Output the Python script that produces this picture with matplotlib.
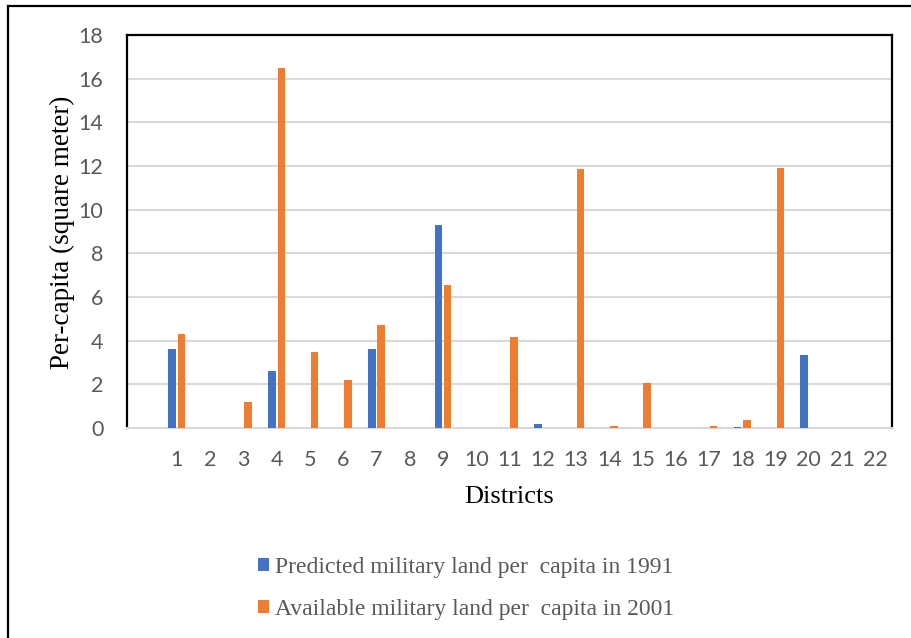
import matplotlib
matplotlib.use("Agg")
import matplotlib.pyplot as plt
from matplotlib.lines import Line2D
import numpy as np

districts = [str(i) for i in range(1, 23)]
predicted_1991 = [3.6, 0, 0, 2.6, 0, 0, 3.6, 0, 9.3, 0, 0, 0.18, 0, 0, 0, 0, 0, 0.05, 0, 3.35, 0, 0]
available_2001 = [4.3, 0, 1.18, 16.5, 3.5, 2.18, 4.7, 0.02, 6.55, 0, 4.17, 0, 11.85, 0.09, 2.08, 0, 0.07, 0.38, 11.9, 0, 0, 0]
y_ticks = [0, 2, 4, 6, 8, 10, 12, 14, 16, 18]

blue = "#4472C4"
orange = "#ED7D31"
grey_text = "#595959"

W, H = 911, 638
fig = plt.figure(figsize=(W / 100, H / 100), dpi=100)
ax = fig.add_axes([127 / W, 1 - 428 / H, (892 - 127) / W, (428 - 35) / H])

x = np.arange(1, len(districts) + 1)
bw = 0.225
ax.bar(x - 0.14, predicted_1991, width=bw, color=blue, edgecolor="none", zorder=3,
       label="Predicted military land per  capita in 1991")
ax.bar(x + 0.14, available_2001, width=bw, color=orange, edgecolor="none", zorder=3,
       label="Available military land per  capita in 2001")

ax.set_xlim(-0.5, len(districts) + 0.5)
ax.set_ylim(0, 18)
ax.set_yticks(y_ticks)
ax.set_xticks(x)
ax.set_xticklabels(districts)
ax.yaxis.grid(True, color="#D9D9D9", linewidth=1.5, zorder=0)
ax.set_axisbelow(True)

for side in ("left", "top", "right"):
    ax.spines[side].set_color("black")
    ax.spines[side].set_linewidth(1.6)
ax.spines["bottom"].set_color("#D9D9D9")
ax.spines["bottom"].set_linewidth(1.5)

ax.tick_params(axis="both", length=0, labelcolor=grey_text, labelsize=15.5)
ax.tick_params(axis="y", pad=17)
ax.tick_params(axis="x", pad=16)
for lbl in ax.get_xticklabels() + ax.get_yticklabels():
    lbl.set_family("Lato")

ax.set_ylabel("Per-capita (square meter)", family="Liberation Serif", fontsize=19.5,
              color="black")
ax.yaxis.set_label_coords(62 / W, 1 - 232 / H, transform=fig.transFigure)
ax.set_xlabel("Districts", family="Liberation Serif", fontsize=19, color="black")
ax.xaxis.set_label_coords(509 / W, 1 - 497 / H, transform=fig.transFigure)
ax.xaxis.label.set_va("center")
ax.yaxis.label.set_va("center")

leg = fig.legend(loc="upper left", bbox_to_anchor=(237 / W, 1 - 536 / H), ncol=1,
                 frameon=False, handlelength=0.47, handleheight=0.47, handletextpad=0.25,
                 labelspacing=0.89, prop={"family": "Liberation Serif", "size": 17})
for t in leg.get_texts():
    t.set_color(grey_text)

# outer frame of the chart
fig.add_artist(Line2D([8 / W, 8 / W], [0, 1 - 6 / H], color="black", linewidth=1.6,
                      transform=fig.transFigure))
fig.add_artist(Line2D([8 / W, 1], [1 - 6 / H, 1 - 6 / H], color="black", linewidth=1.6,
                      transform=fig.transFigure))

fig.savefig("out.png", dpi=100)
